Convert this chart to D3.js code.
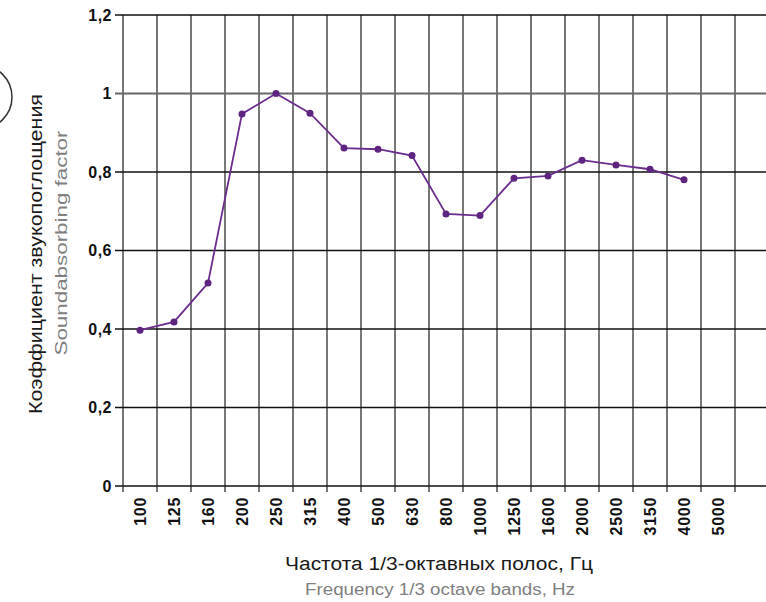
<!DOCTYPE html>
<html>
<head>
<meta charset="utf-8">
<script src="https://d3js.org/d3.v7.min.js"></script>
<style>
  body { margin: 0; background: #fff; }
  svg { display: block; font-family: "Liberation Sans", Arial, sans-serif; }
</style>
</head>
<body>
<div id="chart"></div>
<script>
  // frequency bands (Hz) and measured absorption
  var bands = ["100", "125", "160", "200", "250", "315", "400", "500", "630", "800",
    "1000", "1250", "1600", "2000", "2500", "3150", "4000", "5000"];
  var alpha = [0.397, 0.418, 0.517, 0.948, 1.0, 0.95, 0.861, 0.858, 0.842, 0.693,
    0.689, 0.784, 0.79, 0.83, 0.818, 0.807, 0.78];
  var yTicks = [0, 0.2, 0.4, 0.6, 0.8, 1.0, 1.2];

  var width = 766, height = 602;
  var margin = { top: 15, right: 0, bottom: 116, left: 123 };

  var svg = d3.select("#chart").append("svg")
    .attr("width", width)
    .attr("height", height);

  var x = d3.scaleBand()
    .domain(bands)
    .range([margin.left, margin.left + 34 * bands.length]);

  var y = d3.scaleLinear()
    .domain([0, 1.2])
    .range([height - margin.bottom, margin.top]);

  // vertical grid
  svg.append("g")
    .selectAll("line")
    .data(bands.concat(["end"]))
    .enter().append("line")
    .attr("x1", function (d, i) { return x.range()[0] + i * x.bandwidth(); })
    .attr("x2", function (d, i) { return x.range()[0] + i * x.bandwidth(); })
    .attr("y1", y(1.2))
    .attr("y2", y(0) + 6)
    .attr("stroke", "#555")
    .attr("stroke-width", 1.6);

  // horizontal grid
  svg.append("g")
    .selectAll("line")
    .data(yTicks)
    .enter().append("line")
    .attr("x1", margin.left - 8)
    .attr("x2", width)
    .attr("y1", function (d) { return y(d); })
    .attr("y2", function (d) { return y(d); })
    .attr("stroke", function (d) { return d === 1.0 ? "#666" : "#111"; })
    .attr("stroke-width", function (d) { return d === 1.0 ? 2 : 1.4; });

  // y tick labels
  svg.append("g")
    .selectAll("text")
    .data(yTicks)
    .enter().append("text")
    .attr("x", margin.left - 11)
    .attr("y", function (d) { return y(d); })
    .attr("dy", "0.36em")
    .attr("text-anchor", "end")
    .attr("font-size", 16)
    .attr("font-weight", "bold")
    .attr("letter-spacing", 0.5)
    .attr("fill", "#111")
    .text(function (d) { return d === 0 ? "0" : d === 1 ? "1" : d3.format(".1f")(d).replace(".", ","); });

  // x tick labels
  svg.append("g")
    .selectAll("text")
    .data(bands)
    .enter().append("text")
    .attr("transform", function (d) {
      return "translate(" + (x(d) + x.bandwidth() / 2 + 6) + "," + (y(0) + 11) + ") rotate(-90)";
    })
    .attr("text-anchor", "end")
    .attr("font-size", 16)
    .attr("font-weight", "bold")
    .attr("letter-spacing", 0.7)
    .attr("fill", "#111")
    .text(function (d) { return d; });

  // data line
  var pts = alpha.map(function (v, i) { return [bands[i], v]; });
  var line = d3.line()
    .x(function (d) { return x(d[0]) + x.bandwidth() / 2; })
    .y(function (d) { return y(d[1]); });

  svg.append("path")
    .datum(pts)
    .attr("d", line)
    .attr("fill", "none")
    .attr("stroke", "#6b2d8e")
    .attr("stroke-width", 1.8);

  svg.append("g")
    .selectAll("circle")
    .data(pts)
    .enter().append("circle")
    .attr("cx", function (d) { return x(d[0]) + x.bandwidth() / 2; })
    .attr("cy", function (d) { return y(d[1]); })
    .attr("r", 3.5)
    .attr("fill", "#5e2580");

  // axis titles
  svg.append("text")
    .attr("transform", "translate(42,254) rotate(-90)")
    .attr("text-anchor", "middle")
    .attr("font-size", 18)
    .attr("textLength", 320)
    .attr("lengthAdjust", "spacingAndGlyphs")
    .attr("fill", "#1a1a1a")
    .text("Коэффициент звукопоглощения");

  svg.append("text")
    .attr("transform", "translate(67,243) rotate(-90)")
    .attr("text-anchor", "middle")
    .attr("font-size", 16)
    .attr("textLength", 225)
    .attr("lengthAdjust", "spacingAndGlyphs")
    .attr("fill", "#808080")
    .text("Soundabsorbing factor");

  svg.append("text")
    .attr("x", 439)
    .attr("y", 570)
    .attr("text-anchor", "middle")
    .attr("font-size", 18)
    .attr("textLength", 308)
    .attr("lengthAdjust", "spacingAndGlyphs")
    .attr("fill", "#1a1a1a")
    .text("Частота 1/3-октавных полос, Гц");

  svg.append("text")
    .attr("x", 440)
    .attr("y", 595)
    .attr("text-anchor", "middle")
    .attr("font-size", 16)
    .attr("textLength", 270)
    .attr("lengthAdjust", "spacingAndGlyphs")
    .attr("fill", "#808080")
    .text("Frequency 1/3 octave bands, Hz");

  // partial circle on left edge
  svg.append("circle")
    .attr("cx", -20)
    .attr("cy", 97)
    .attr("r", 32)
    .attr("fill", "none")
    .attr("stroke", "#333")
    .attr("stroke-width", 1.5);
</script>
</body>
</html>
